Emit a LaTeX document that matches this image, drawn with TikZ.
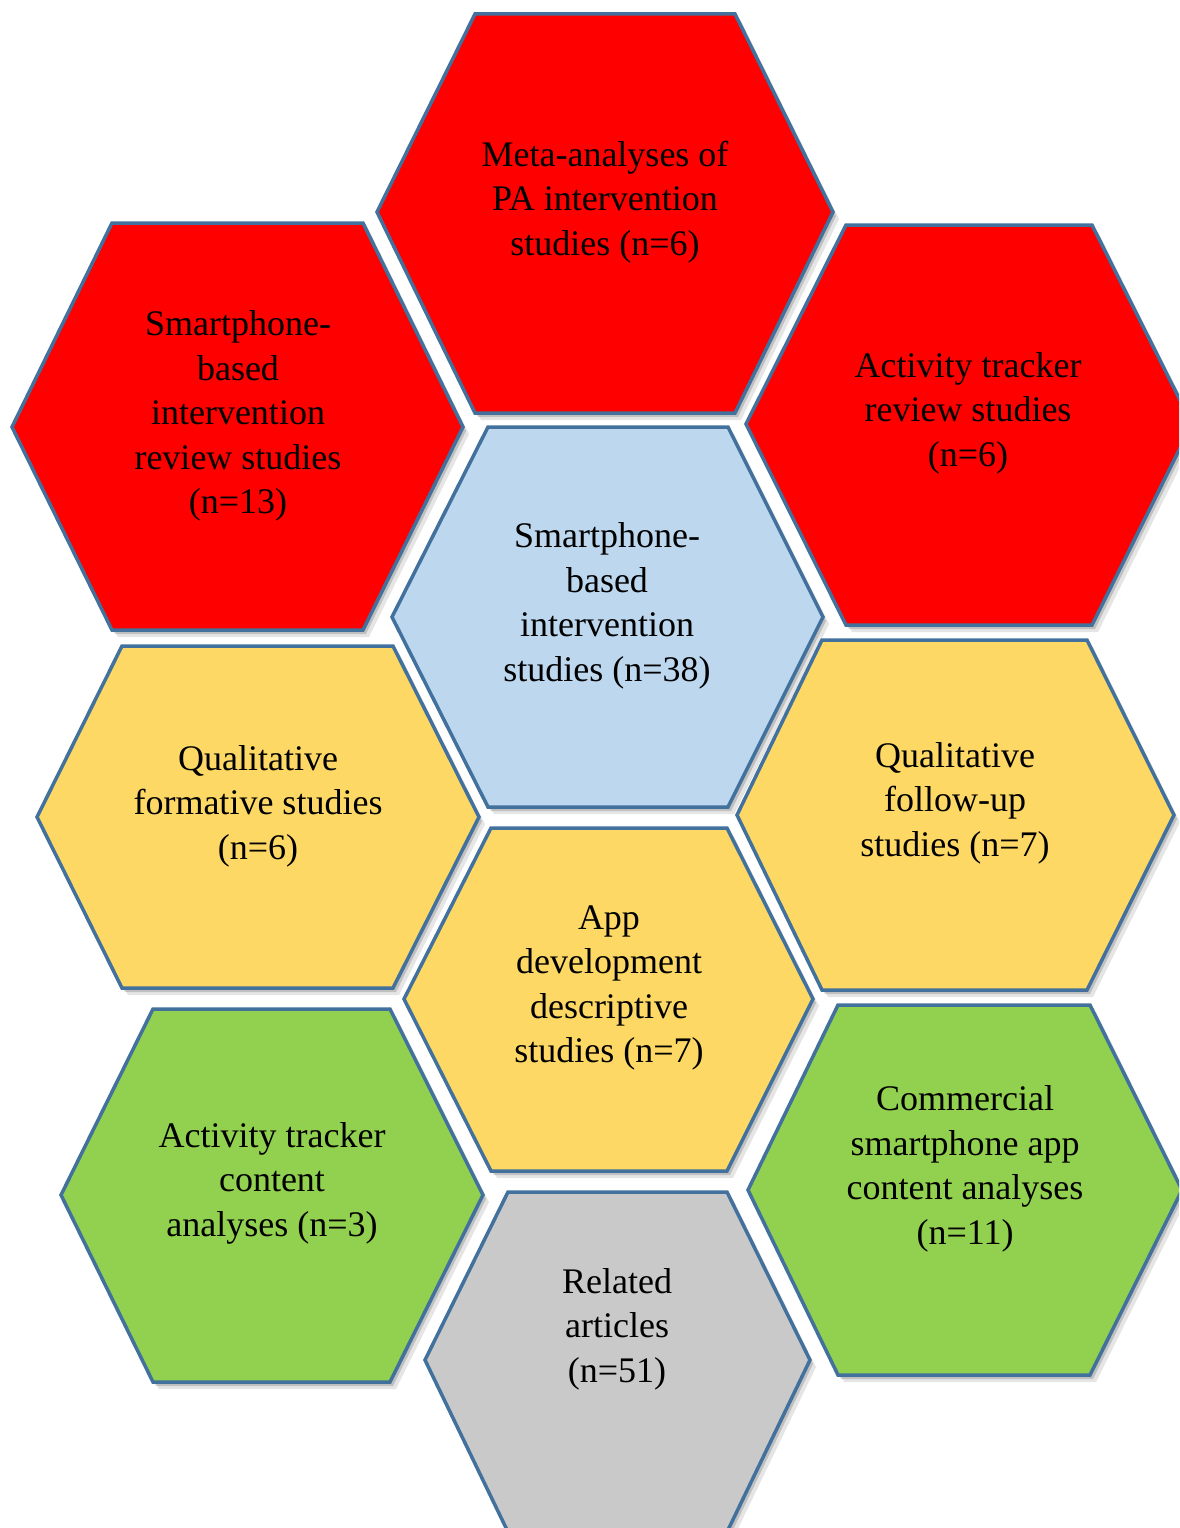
\documentclass[tikz,border=0pt]{standalone}
\usepackage{fontspec}
\setmainfont{Liberation Serif}
\definecolor{redc}{HTML}{FF0000}
\definecolor{bluec}{HTML}{BDD7EE}
\definecolor{yellowc}{HTML}{FDD865}
\definecolor{greenc}{HTML}{92D050}
\definecolor{grayc}{HTML}{C9C9C9}
\definecolor{edgec}{HTML}{41719C}
\newcommand{\hexshape}[8]{%
  \path[#1] (#2,#7) -- (#3,#6) -- (#4,#6) -- (#5,#7) -- (#4,#8) -- (#3,#8) -- cycle;}
\newcommand{\hexwithshadow}[8]{%
  \hexshape{fill=black, opacity=0.10, shift={(6,7)}}{#2}{#3}{#4}{#5}{#6}{#7}{#8}%
  \hexshape{fill=black, opacity=0.16, shift={(3,4)}}{#2}{#3}{#4}{#5}{#6}{#7}{#8}%
}
\tikzset{
  hexbox/.style={draw=edgec, line width=3.5pt, line join=miter},
  lbl/.style={font=\fontsize{36}{44.5}\selectfont, align=center, text=black, inner sep=0pt}
}
\begin{document}
\begin{tikzpicture}[x=1pt,y=-1pt]
\useasboundingbox (0,0) rectangle (1179,1528);
\fill[white] (0,0) rectangle (1179,1528);
\clip (0,0) rectangle (1179,1528);
% shadows
\hexwithshadow{}{377}{475}{735}{833}{14}{212}{413}
\hexwithshadow{}{12}{112}{363}{463}{223}{427}{630}
\hexwithshadow{}{746}{846}{1092}{1192}{225}{424}{625}
\hexwithshadow{}{392}{488}{728}{823}{427}{617}{807}
\hexwithshadow{}{37}{122}{393}{479}{646}{817}{988}
\hexwithshadow{}{737}{822}{1087}{1174}{640}{815}{990}
\hexwithshadow{}{404}{491}{727}{813}{828}{999}{1171}
\hexwithshadow{}{61}{153}{390}{483}{1009}{1195}{1382}
\hexwithshadow{}{748}{838}{1090}{1182}{1005}{1190}{1375}
\hexwithshadow{}{425}{508}{727}{810}{1192}{1360}{1532}
% hexagons
\hexshape{hexbox, fill=redc}{377}{475}{735}{833}{14}{212}{413}
\hexshape{hexbox, fill=redc}{12}{112}{363}{463}{223}{427}{630}
\hexshape{hexbox, fill=redc}{746}{846}{1092}{1192}{225}{424}{625}
\hexshape{hexbox, fill=bluec}{392}{488}{728}{823}{427}{617}{807}
\hexshape{hexbox, fill=yellowc}{37}{122}{393}{479}{646}{817}{988}
\hexshape{hexbox, fill=yellowc}{737}{822}{1087}{1174}{640}{815}{990}
\hexshape{hexbox, fill=yellowc}{404}{491}{727}{813}{828}{999}{1171}
\hexshape{hexbox, fill=greenc}{61}{153}{390}{483}{1009}{1195}{1382}
\hexshape{hexbox, fill=greenc}{748}{838}{1090}{1182}{1005}{1190}{1375}
\hexshape{hexbox, fill=grayc}{425}{508}{727}{810}{1192}{1360}{1532}
% labels
\node[lbl] (meta) at (605,202) {Meta-analyses of\\PA intervention\\studies (n=6)};
\node[lbl] (smartrev) at (238,416) {Smartphone-\\based\\intervention\\review studies\\(n=13)};
\node[lbl] (trackrev) at (968,413) {Activity tracker\\review studies\\(n=6)};
\node[lbl] (smartint) at (607,606) {Smartphone-\\based\\intervention\\studies (n=38)};
\node[lbl] (qualform) at (258,806) {Qualitative\\formative studies\\(n=6)};
\node[lbl] (qualfollow) at (955,803) {Qualitative\\follow-up\\studies (n=7)};
\node[lbl] (appdev) at (609,988) {App\\development\\descriptive\\studies (n=7)};
\node[lbl] (trackcont) at (272,1183) {Activity tracker\\content\\analyses (n=3)};
\node[lbl] (commercial) at (965,1169) {Commercial\\smartphone app\\content analyses\\(n=11)};
\node[lbl] (related) at (617,1329) {Related\\articles\\(n=51)};
\end{tikzpicture}
\end{document}
